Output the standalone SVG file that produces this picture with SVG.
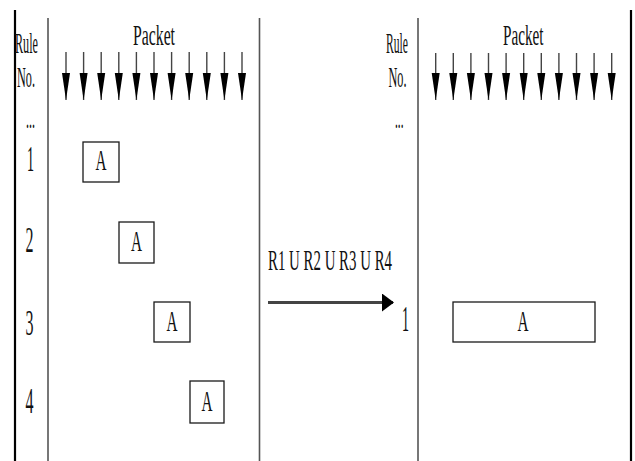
<svg xmlns="http://www.w3.org/2000/svg" width="635" height="461" viewBox="0 0 635 461">
<style>
text{font-family:"Liberation Serif","Times New Roman",serif;fill:#111}
.lbl{font-size:29px}
.a{font-size:30px}
.dig{font-size:35px}
.box{fill:#fff;stroke:#1a1a1a;stroke-width:1.3}
.frame{stroke:#000;stroke-width:2.2}
.div{stroke:#555;stroke-width:1.6}
.pk{stroke:#444;stroke-width:1.4;marker-end:url(#ph)}
</style>
<defs>
<marker id="ph" markerUnits="userSpaceOnUse" markerWidth="28" markerHeight="9" refX="27" refY="4.5" orient="auto" viewBox="0 0 28 9">
<path d="M0,0.5 L27,4.5 L0,8.5 Z" fill="#000"/>
</marker>
<marker id="bh" markerUnits="userSpaceOnUse" markerWidth="12" markerHeight="18" refX="11" refY="9" orient="auto" viewBox="0 0 12 18">
<path d="M0,0 L12,9 L0,18 Z" fill="#000"/>
</marker>
</defs>
<rect width="635" height="461" fill="#fff"/>
<g id="frame">
<line class="frame" x1="15" y1="10" x2="15" y2="461"/>
<line class="div" x1="48" y1="18" x2="48" y2="461"/>
<line class="div" x1="259.5" y1="18" x2="259.5" y2="461"/>
<line class="div" x1="418" y1="18" x2="418" y2="461"/>
<line class="frame" x1="631" y1="10" x2="631" y2="461"/>
</g>
<g id="left-header">
<text class="lbl" x="15" y="53" textLength="23" lengthAdjust="spacingAndGlyphs">Rule</text>
<text class="lbl" x="17" y="87" textLength="18" lengthAdjust="spacingAndGlyphs">No.</text>
<text class="lbl" x="26" y="128" textLength="9" lengthAdjust="spacingAndGlyphs">...</text>
<text class="lbl" x="133" y="45" textLength="42" lengthAdjust="spacingAndGlyphs" style="font-size:30px">Packet</text>
</g>
<g id="left-rules">
<text class="dig" x="27" y="171" textLength="7" lengthAdjust="spacingAndGlyphs">1</text>
<text class="dig" x="25.5" y="252" textLength="8" lengthAdjust="spacingAndGlyphs">2</text>
<text class="dig" x="25.5" y="335" textLength="8" lengthAdjust="spacingAndGlyphs">3</text>
<text class="dig" x="25.5" y="413" textLength="8" lengthAdjust="spacingAndGlyphs">4</text>
</g>
<g id="rule1"><rect class="box" x="83" y="142" width="36" height="40"/><text class="a" x="95.5" y="170" textLength="11" lengthAdjust="spacingAndGlyphs">A</text></g>
<g id="rule2"><rect class="box" x="119" y="222" width="35" height="41"/><text class="a" x="131" y="251" textLength="11" lengthAdjust="spacingAndGlyphs">A</text></g>
<g id="rule3"><rect class="box" x="154" y="302" width="36" height="40"/><text class="a" x="166.5" y="331" textLength="11" lengthAdjust="spacingAndGlyphs">A</text></g>
<g id="rule4"><rect class="box" x="190" y="381" width="34" height="42"/><text class="a" x="201.5" y="411" textLength="11" lengthAdjust="spacingAndGlyphs">A</text></g>
<g id="right-header">
<text class="lbl" x="386" y="53" textLength="22" lengthAdjust="spacingAndGlyphs">Rule</text>
<text class="lbl" x="388.5" y="87" textLength="18" lengthAdjust="spacingAndGlyphs">No.</text>
<text class="lbl" x="395" y="128" textLength="8.5" lengthAdjust="spacingAndGlyphs">...</text>
<text class="lbl" x="503" y="45" textLength="40.5" lengthAdjust="spacingAndGlyphs" style="font-size:30px">Packet</text>
</g>
<g id="merged-rule">
<text class="dig" x="402" y="331" textLength="7" lengthAdjust="spacingAndGlyphs">1</text>
<rect class="box" x="453" y="302" width="142" height="40"/>
<text class="a" x="517.5" y="331" textLength="11" lengthAdjust="spacingAndGlyphs">A</text>
</g>
<g id="union-label">
<text class="lbl" x="268" y="270" textLength="124" lengthAdjust="spacingAndGlyphs">R1 U R2 U R3 U R4</text>
</g>
<g id="connectors">
<line class="pk" x1="66" y1="52" x2="66" y2="100"/>
<line class="pk" x1="83.6" y1="52" x2="83.6" y2="100"/>
<line class="pk" x1="101.2" y1="52" x2="101.2" y2="100"/>
<line class="pk" x1="118.8" y1="52" x2="118.8" y2="100"/>
<line class="pk" x1="136.4" y1="52" x2="136.4" y2="100"/>
<line class="pk" x1="154" y1="52" x2="154" y2="100"/>
<line class="pk" x1="171.6" y1="52" x2="171.6" y2="100"/>
<line class="pk" x1="189.2" y1="52" x2="189.2" y2="100"/>
<line class="pk" x1="206.8" y1="52" x2="206.8" y2="100"/>
<line class="pk" x1="224.4" y1="52" x2="224.4" y2="100"/>
<line class="pk" x1="242" y1="52" x2="242" y2="100"/>
<line class="pk" x1="435.7" y1="53" x2="435.7" y2="100"/>
<line class="pk" x1="453.3" y1="53" x2="453.3" y2="100"/>
<line class="pk" x1="470.9" y1="53" x2="470.9" y2="100"/>
<line class="pk" x1="488.5" y1="53" x2="488.5" y2="100"/>
<line class="pk" x1="506.1" y1="53" x2="506.1" y2="100"/>
<line class="pk" x1="523.7" y1="53" x2="523.7" y2="100"/>
<line class="pk" x1="541.3" y1="53" x2="541.3" y2="100"/>
<line class="pk" x1="558.9" y1="53" x2="558.9" y2="100"/>
<line class="pk" x1="576.5" y1="53" x2="576.5" y2="100"/>
<line class="pk" x1="594.1" y1="53" x2="594.1" y2="100"/>
<line class="pk" x1="611.7" y1="53" x2="611.7" y2="100"/>
<line x1="268" y1="302.5" x2="393" y2="302.5" stroke="#444" stroke-width="3" marker-end="url(#bh)"/>
</g>
</svg>
